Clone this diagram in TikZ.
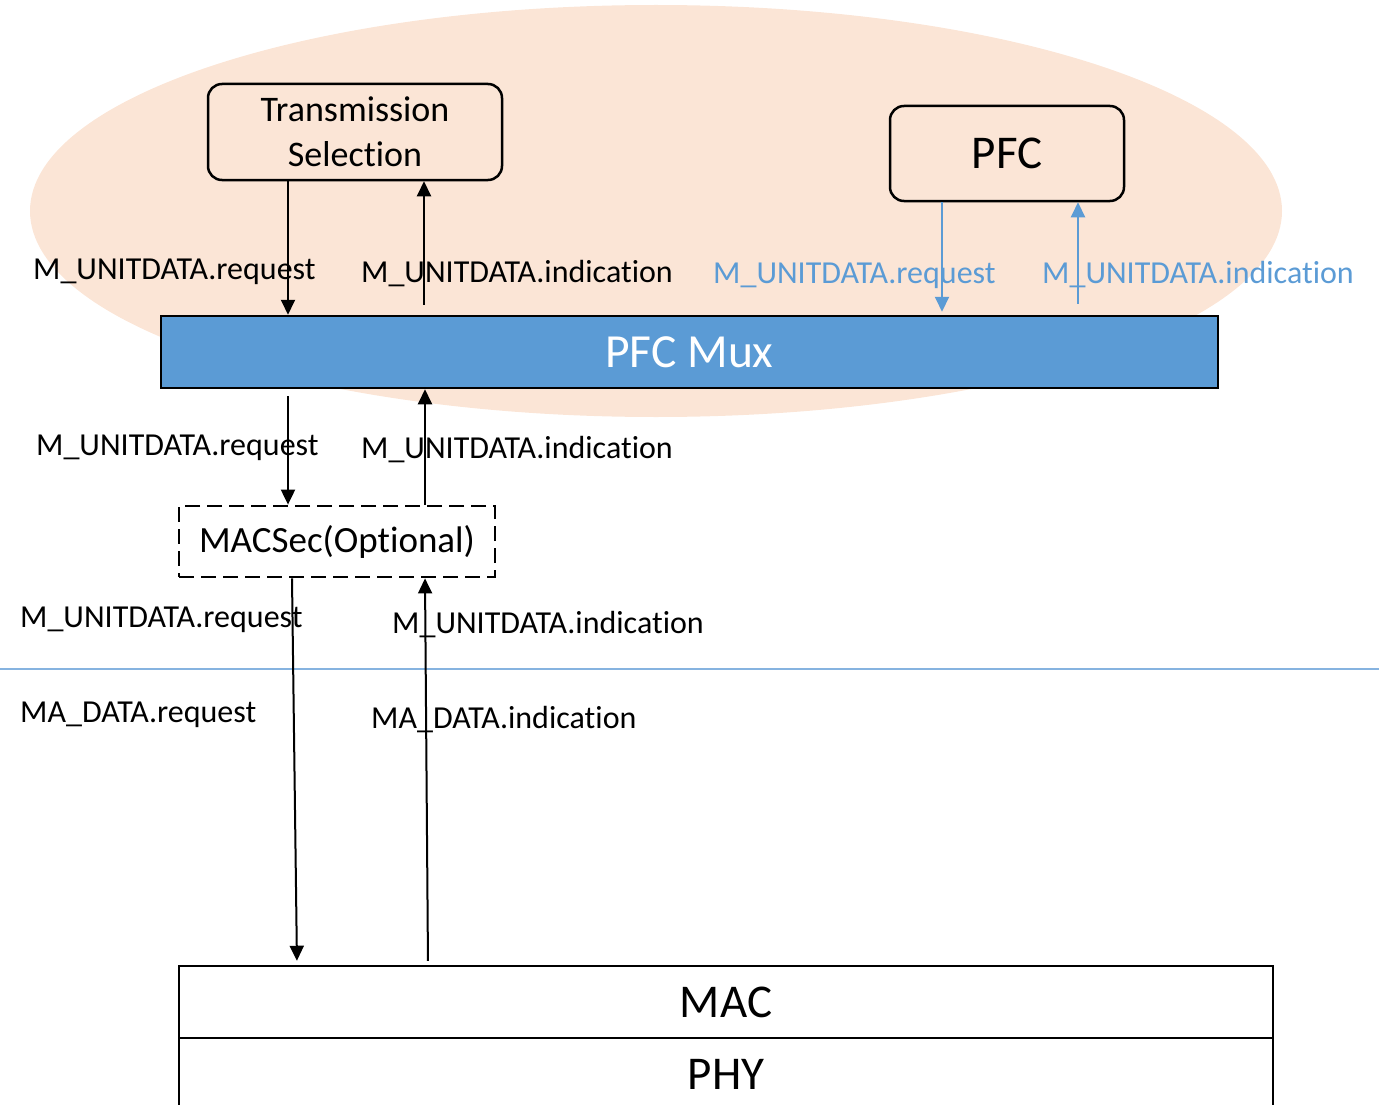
\documentclass[tikz,border=0pt]{standalone}
\usepackage{fontspec}
\setmainfont{Carlito}[Ligatures=NoCommon]
\usepackage[usenames,dvipsnames]{xcolor}
\usetikzlibrary{calc,arrows.meta}

\definecolor{clientfill}{HTML}{FBE5D6}
\definecolor{muxblue}{HTML}{5B9BD5}
\definecolor{splitblue}{HTML}{86B3E0}

\begin{document}
\begin{tikzpicture}[x=1pt, y=-1pt,
    layerbox/.style={draw, rectangle, line width=2.5pt, inner sep=0pt},
    roundbox/.style={layerbox, rounded corners=14pt},
    primlabel/.style={anchor=base west, inner sep=0pt, font=\fontsize{32}{36}\selectfont},
    arr/.style={line width=2pt, -{Triangle[width=14pt,length=15pt]}},
    bluearr/.style={arr, muxblue}]
  \useasboundingbox (0,0) rectangle (1379,1105);

  % client area
  \fill[clientfill] (656,211) ellipse [x radius=626pt, y radius=206pt];

  \node (ts) [roundbox, minimum width=294pt, minimum height=96pt, align=center,
    font=\fontsize{36}{45}\selectfont] at (355,132) {Transmission\\Selection};
  \node (pfc) [roundbox, minimum width=234pt, minimum height=95pt,
    font=\fontsize{47}{50}\selectfont] at (1007,153.5) {PFC};
  \node (mux) [layerbox, fill=muxblue, text=white, minimum width=1057pt, minimum height=72pt,
    font=\fontsize{47.5}{50}\selectfont] at (689.5,352) {PFC Mux};
  \node (macsec) [layerbox, line width=2.8pt, dash pattern=on 15pt off 7pt, minimum width=316pt, minimum height=71pt,
    font=\fontsize{37}{40}\selectfont] at (337,541.5) {MACSec(Optional)};
  \node (mac) [layerbox, minimum width=1094pt, minimum height=72pt,
    font=\fontsize{47}{50}\selectfont] at (726,1002) {MAC};
  \node (phy) [layerbox, minimum width=1094pt, minimum height=72pt,
    font=\fontsize{47}{50}\selectfont] at (726,1074) {PHY};

  % service boundary
  \coordinate (sepL) at (0,669);
  \coordinate (sepR) at (1379,669);
  \draw[splitblue, line width=1.5pt] (sepL) -- (sepR);

  % primitives
  \node (tsreq) [primlabel] at (33,279) {M\_UNITDATA.request};
  \node (tsind) [primlabel] at (361,282) {M\_UNITDATA.indication};
  \node (pfcreq) [primlabel, text=muxblue] at (713,283) {M\_UNITDATA.request};
  \node (pfcind) [primlabel, text=muxblue] at (1042,283) {M\_UNITDATA.indication};
  \node (muxreq) [primlabel] at (36,455) {M\_UNITDATA.request};
  \node (muxind) [primlabel] at (361,458) {M\_UNITDATA.indication};
  \node (secreq) [primlabel] at (20,627) {M\_UNITDATA.request};
  \node (secind) [primlabel] at (392,633) {M\_UNITDATA.indication};
  \node (mareq) [primlabel] at (20,722) {MA\_DATA.request};
  \node (maind) [primlabel] at (371,728) {MA\_DATA.indication};

  \coordinate (tsdown) at ([xshift=-67pt]ts.south);
  \coordinate (tsup) at ([xshift=69pt]ts.south);
  \coordinate (pfcdown) at ([xshift=-65pt]pfc.south);
  \coordinate (pfcup) at ([xshift=71pt]pfc.south);
  \coordinate (secdown) at ([xshift=-45pt]macsec.south);
  \coordinate (secup) at ([xshift=88pt]macsec.south);
  \coordinate (macdown) at ([xshift=-429pt]mac.north);
  \coordinate (macup) at ([xshift=-298pt]mac.north);

  \draw[arr] (tsdown) -- (tsdown |- mux.north);
  \draw[arr, shorten <=10pt] (tsup |- mux.north) -- (tsup);
  \draw[bluearr, shorten >=3pt] (pfcdown) -- (pfcdown |- mux.north);
  \draw[bluearr, shorten <=11pt] (pfcup |- mux.north) -- (pfcup);
  \draw[arr, shorten <=7pt] (tsdown |- mux.south) -- (tsdown |- macsec.north);
  \draw[arr] ([xshift=1pt]tsup |- macsec.north) -- ([xshift=1pt]tsup |- mux.south);
  \draw[arr, shorten >=4pt] (secdown) -- (macdown);
  \draw[arr, shorten <=4pt] (macup) -- (secup);
\end{tikzpicture}
\end{document}
